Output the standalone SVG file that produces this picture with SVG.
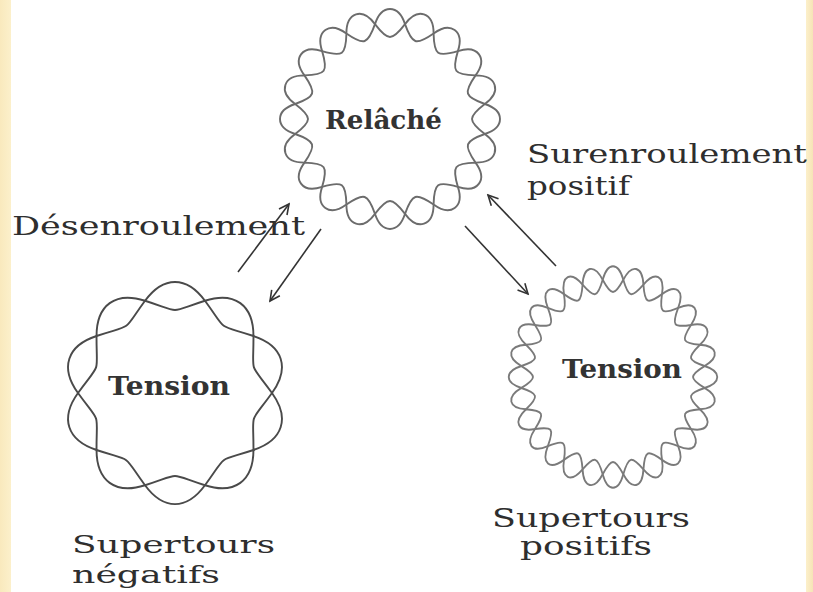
<svg xmlns="http://www.w3.org/2000/svg" xmlns:xlink="http://www.w3.org/1999/xlink" width="813" height="592" viewBox="0 0 813 592">
  <defs>
    <style>
      .strand { fill: none; stroke: #6c6c6c; stroke-width: 1.9; stroke-linejoin: round; }
      .strand-dark { stroke: #4a4a4a; }
      .strand-light { stroke: #7a7a7a; }
      .lbl { font-family: "DejaVu Serif", "Liberation Serif", serif; font-size: 26px; fill: #2e2e2e; }
      .lbl-sm { font-size: 25px; }
      .node-lbl { font-family: "DejaVu Serif", "Liberation Serif", serif; font-size: 26px; font-weight: bold; fill: #333; }
      .arrow { fill: none; stroke: #333; stroke-width: 1.6; marker-end: url(#head); }
    </style>
    <linearGradient id="edgeL" x1="0" y1="0" x2="1" y2="0">
      <stop offset="0" stop-color="#f9e9bd"/>
      <stop offset="1" stop-color="#fcf0cb"/>
    </linearGradient>
    <linearGradient id="edgeR" x1="0" y1="0" x2="1" y2="0">
      <stop offset="0" stop-color="#fcf0cb"/>
      <stop offset="1" stop-color="#f6e4b6"/>
    </linearGradient>
    <marker id="head" markerUnits="userSpaceOnUse" markerWidth="14" markerHeight="14" refX="12" refY="7" orient="auto">
      <path d="M2,2 L12,7 L2,12" fill="none" stroke="#333" stroke-width="1.6"/>
    </marker>
    <!-- one twist of the two strands (outer + inner arc), centred on the +x axis -->
    <path id="loopRelax" d="M94.82,-15.02 C115.06,-8.5 115.06,8.5 94.82,15.02 C77.73,2 77.73,-2 94.82,-15.02Z"/>
    <path id="loopNeg" d="M92.25,-29.97 C117.35,-11.61 117.35,11.61 92.25,29.97 C79.92,-8.4 79.92,8.4 92.25,-29.97Z"/>
    <path id="loopPos" d="M94.40,-10.64 C111.87,-5.5 111.87,5.5 94.40,10.64 C78.53,1.5 78.53,-1.5 94.40,-10.64Z"/>
  </defs>

  <!-- page -->
  <rect x="0" y="0" width="813" height="592" fill="#fff"/>
  <rect x="0" y="0" width="11" height="592" fill="url(#edgeL)"/>
  <rect x="806" y="0" width="7" height="592" fill="url(#edgeR)"/>

  <!-- relaxed circular DNA -->
  <g id="node-relache">
    <g class="strand" transform="translate(390,119)">
      <use xlink:href="#loopRelax" transform="rotate(0)"/>
      <use xlink:href="#loopRelax" transform="rotate(18)"/>
      <use xlink:href="#loopRelax" transform="rotate(36)"/>
      <use xlink:href="#loopRelax" transform="rotate(54)"/>
      <use xlink:href="#loopRelax" transform="rotate(72)"/>
      <use xlink:href="#loopRelax" transform="rotate(90)"/>
      <use xlink:href="#loopRelax" transform="rotate(108)"/>
      <use xlink:href="#loopRelax" transform="rotate(126)"/>
      <use xlink:href="#loopRelax" transform="rotate(144)"/>
      <use xlink:href="#loopRelax" transform="rotate(162)"/>
      <use xlink:href="#loopRelax" transform="rotate(180)"/>
      <use xlink:href="#loopRelax" transform="rotate(198)"/>
      <use xlink:href="#loopRelax" transform="rotate(216)"/>
      <use xlink:href="#loopRelax" transform="rotate(234)"/>
      <use xlink:href="#loopRelax" transform="rotate(252)"/>
      <use xlink:href="#loopRelax" transform="rotate(270)"/>
      <use xlink:href="#loopRelax" transform="rotate(288)"/>
      <use xlink:href="#loopRelax" transform="rotate(306)"/>
      <use xlink:href="#loopRelax" transform="rotate(324)"/>
      <use xlink:href="#loopRelax" transform="rotate(342)"/>
    </g>
    <text class="node-lbl" x="325" y="129" textLength="117" lengthAdjust="spacingAndGlyphs">Relâché</text>
  </g>

  <!-- negatively supercoiled DNA -->
  <g id="node-negatif">
    <g class="strand strand-dark" transform="translate(175,393)">
      <use xlink:href="#loopNeg" transform="rotate(18)"/>
      <use xlink:href="#loopNeg" transform="rotate(54)"/>
      <use xlink:href="#loopNeg" transform="rotate(90)"/>
      <use xlink:href="#loopNeg" transform="rotate(126)"/>
      <use xlink:href="#loopNeg" transform="rotate(162)"/>
      <use xlink:href="#loopNeg" transform="rotate(198)"/>
      <use xlink:href="#loopNeg" transform="rotate(234)"/>
      <use xlink:href="#loopNeg" transform="rotate(270)"/>
      <use xlink:href="#loopNeg" transform="rotate(306)"/>
      <use xlink:href="#loopNeg" transform="rotate(342)"/>
    </g>
    <text class="node-lbl" x="108" y="395" textLength="122" lengthAdjust="spacingAndGlyphs">Tension</text>
    <text class="lbl lbl-sm" x="72" y="553" textLength="203" lengthAdjust="spacingAndGlyphs">Supertours</text>
    <text class="lbl lbl-sm" x="72" y="583" textLength="148" lengthAdjust="spacingAndGlyphs">négatifs</text>
  </g>

  <!-- positively supercoiled DNA -->
  <g id="node-positif">
    <g class="strand strand-light" transform="translate(613,377) scale(0.97,1.03)">
      <use xlink:href="#loopPos" transform="rotate(0)"/>
      <use xlink:href="#loopPos" transform="rotate(12.857)"/>
      <use xlink:href="#loopPos" transform="rotate(25.714)"/>
      <use xlink:href="#loopPos" transform="rotate(38.571)"/>
      <use xlink:href="#loopPos" transform="rotate(51.429)"/>
      <use xlink:href="#loopPos" transform="rotate(64.286)"/>
      <use xlink:href="#loopPos" transform="rotate(77.143)"/>
      <use xlink:href="#loopPos" transform="rotate(90)"/>
      <use xlink:href="#loopPos" transform="rotate(102.857)"/>
      <use xlink:href="#loopPos" transform="rotate(115.714)"/>
      <use xlink:href="#loopPos" transform="rotate(128.571)"/>
      <use xlink:href="#loopPos" transform="rotate(141.429)"/>
      <use xlink:href="#loopPos" transform="rotate(154.286)"/>
      <use xlink:href="#loopPos" transform="rotate(167.143)"/>
      <use xlink:href="#loopPos" transform="rotate(180)"/>
      <use xlink:href="#loopPos" transform="rotate(192.857)"/>
      <use xlink:href="#loopPos" transform="rotate(205.714)"/>
      <use xlink:href="#loopPos" transform="rotate(218.571)"/>
      <use xlink:href="#loopPos" transform="rotate(231.429)"/>
      <use xlink:href="#loopPos" transform="rotate(244.286)"/>
      <use xlink:href="#loopPos" transform="rotate(257.143)"/>
      <use xlink:href="#loopPos" transform="rotate(270)"/>
      <use xlink:href="#loopPos" transform="rotate(282.857)"/>
      <use xlink:href="#loopPos" transform="rotate(295.714)"/>
      <use xlink:href="#loopPos" transform="rotate(308.571)"/>
      <use xlink:href="#loopPos" transform="rotate(321.429)"/>
      <use xlink:href="#loopPos" transform="rotate(334.286)"/>
      <use xlink:href="#loopPos" transform="rotate(347.143)"/>
    </g>
    <text class="node-lbl" x="562" y="378" textLength="120" lengthAdjust="spacingAndGlyphs">Tension</text>
    <text class="lbl" x="492" y="527" textLength="198" lengthAdjust="spacingAndGlyphs">Supertours</text>
    <text class="lbl" x="520" y="555" textLength="132" lengthAdjust="spacingAndGlyphs">positifs</text>
  </g>

  <!-- transition labels -->
  <text class="lbl" x="12" y="235" textLength="293" lengthAdjust="spacingAndGlyphs">Désenroulement</text>
  <text class="lbl" x="527" y="163" textLength="280" lengthAdjust="spacingAndGlyphs">Surenroulement</text>
  <text class="lbl" x="527" y="195" textLength="103" lengthAdjust="spacingAndGlyphs">positif</text>

  <!-- connectors -->
  <g id="connectors">
    <line class="arrow" x1="238" y1="272" x2="289" y2="204"/>
    <line class="arrow" x1="321" y1="229" x2="270" y2="301"/>
    <line class="arrow" x1="465" y1="226" x2="528" y2="294"/>
    <line class="arrow" x1="556" y1="266" x2="488" y2="195"/>
  </g>
</svg>
